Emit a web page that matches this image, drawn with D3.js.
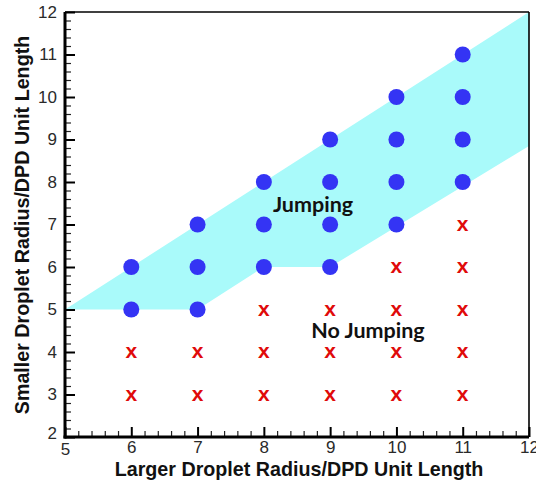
<!DOCTYPE html>
<html>
<head>
<meta charset="utf-8">
<script src="https://cdn.jsdelivr.net/npm/d3@7"></script>
<style>
  html, body { margin: 0; padding: 0; background: #fff; }
  svg { display: block; }
</style>
</head>
<body>
<svg id="chart" width="536" height="486"></svg>
<script>
// Simulation outcomes: [larger radius, smaller radius]
const jumping = [
  [6, 5], [6, 6],
  [7, 5], [7, 6], [7, 7],
  [8, 6], [8, 7], [8, 8],
  [9, 6], [9, 7], [9, 8], [9, 9],
  [10, 7], [10, 8], [10, 9], [10, 10],
  [11, 8], [11, 9], [11, 10], [11, 11]
];
const noJumping = [
  [6, 3], [6, 4],
  [7, 3], [7, 4],
  [8, 3], [8, 4], [8, 5],
  [9, 3], [9, 4], [9, 5],
  [10, 3], [10, 4], [10, 5], [10, 6],
  [11, 3], [11, 4], [11, 5], [11, 6], [11, 7]
];
// Boundary of the jumping regime
const regionUpper = [[5, 5], [12, 12]];
const regionLower = [[12, 8.85], [9, 6], [8, 6], [7, 5], [5, 5]];

const xTicks = [5, 6, 7, 8, 9, 10, 11, 12];
const yTicks = [2, 3, 4, 5, 6, 7, 8, 9, 10, 11, 12];
const xTitle = "Larger Droplet Radius/DPD Unit Length";
const yTitle = "Smaller Droplet Radius/DPD Unit Length";

const svg = d3.select("#chart");
const m = { left: 65, right: 529, top: 12, bottom: 437 };

const x = d3.scaleLinear().domain([5, 12]).range([m.left, m.right]);
const y = d3.scaleLinear().domain([2, 12]).range([m.bottom, m.top]);

svg.append("defs").append("clipPath").attr("id", "plotClip")
  .append("rect")
  .attr("x", m.left).attr("y", m.top)
  .attr("width", m.right - m.left).attr("height", m.bottom - m.top);

// Shaded jumping region
const poly = regionUpper.concat(regionLower);
svg.append("path")
  .attr("clip-path", "url(#plotClip)")
  .attr("d", d3.line().x(d => x(d[0])).y(d => y(d[1]))(poly) + "Z")
  .attr("fill", "#a9fafa");

// Frame: thin top/right, heavy left/bottom
svg.append("line").attr("x1", m.left).attr("x2", m.right).attr("y1", m.top).attr("y2", m.top)
  .attr("stroke", "#000").attr("stroke-width", 1.6);
svg.append("line").attr("x1", m.right).attr("x2", m.right).attr("y1", m.top).attr("y2", m.bottom)
  .attr("stroke", "#000").attr("stroke-width", 1.6);

// Minor ticks
const xMinor = d3.range(5, 12.001, 0.2).filter(v => Math.abs(v - Math.round(v)) > 1e-6);
const yMinor = d3.range(2, 12.001, 0.2).filter(v => Math.abs(v - Math.round(v)) > 1e-6);

const xAxis = d3.axisBottom(x).tickValues(xTicks).tickSize(-10).tickFormat(d3.format("d"));
const yAxis = d3.axisLeft(y).tickValues(yTicks).tickSize(-10).tickFormat(d3.format("d"));

const gxMinor = svg.append("g").attr("transform", `translate(0,${m.bottom})`)
  .call(d3.axisBottom(x).tickValues(xMinor).tickSize(-6).tickFormat(""));
const gyMinor = svg.append("g").attr("transform", `translate(${m.left},0)`)
  .call(d3.axisLeft(y).tickValues(yMinor).tickSize(-6).tickFormat(""));
[gxMinor, gyMinor].forEach(g => {
  g.select(".domain").remove();
  g.selectAll(".tick line").attr("stroke", "#222").attr("stroke-width", 1.2);
});

const gx = svg.append("g").attr("transform", `translate(0,${m.bottom})`).call(xAxis);
const gy = svg.append("g").attr("transform", `translate(${m.left},0)`).call(yAxis);
[gx, gy].forEach(g => {
  g.select(".domain").attr("stroke", "#000").attr("stroke-width", 3);
  g.selectAll(".tick line").attr("stroke", "#000").attr("stroke-width", 2);
  g.selectAll(".tick text")
    .attr("font-family", "Liberation Sans, Arial, sans-serif")
    .attr("font-size", 17).attr("fill", "#2a2a2a");
});
gx.select(".domain").attr("d", `M${m.left - 1.5},0H${m.right}`);
gy.select(".domain").attr("d", `M0,${m.top}V${m.bottom + 1.5}`);
gx.selectAll(".tick text").attr("y", 4).attr("dy", "0.71em");
gy.selectAll(".tick text").attr("x", -8);
// The "2" and "5" sit just outside the origin corner
gy.selectAll(".tick text").filter(d => d === 2).attr("dy", "0.1em");
gx.selectAll(".tick text").filter(d => d === 5).attr("y", 6);

// Jumping cases: filled blue dots
svg.append("g").selectAll("circle").data(jumping).join("circle")
  .attr("cx", d => x(d[0])).attr("cy", d => y(d[1])).attr("r", 8)
  .attr("fill", "#3434f4");

// No-jumping cases: bold red "x"
svg.append("g").selectAll("text").data(noJumping).join("text")
  .attr("x", d => x(d[0])).attr("y", d => y(d[1]))
  .attr("text-anchor", "middle").attr("dy", "0.3em")
  .attr("font-family", "Liberation Sans, Arial, sans-serif")
  .attr("font-weight", "bold").attr("font-size", 21)
  .attr("fill", "#e00a0a")
  .text("x");

// Region labels
svg.append("text").attr("x", 313).attr("y", 212).attr("text-anchor", "middle")
  .attr("font-family", "Lato, Carlito, sans-serif").attr("font-weight", "bold")
  .attr("font-size", 21.5).attr("fill", "#111").text("Jumping");
svg.append("text").attr("x", 368).attr("y", 338).attr("text-anchor", "middle")
  .attr("font-family", "Lato, Carlito, sans-serif").attr("font-weight", "bold")
  .attr("font-size", 21.5).attr("fill", "#111").text("No Jumping");

// Axis titles
svg.append("text").attr("x", 299).attr("y", 476)
  .attr("text-anchor", "middle")
  .attr("font-family", "Liberation Sans, Arial, sans-serif").attr("font-weight", "bold")
  .attr("font-size", 19.7).attr("fill", "#111").text(xTitle);
svg.append("text")
  .attr("transform", `translate(29,225) rotate(-90)`)
  .attr("text-anchor", "middle")
  .attr("font-family", "Liberation Sans, Arial, sans-serif").attr("font-weight", "bold")
  .attr("font-size", 19.7).attr("fill", "#111").text(yTitle);
</script>
</body>
</html>
